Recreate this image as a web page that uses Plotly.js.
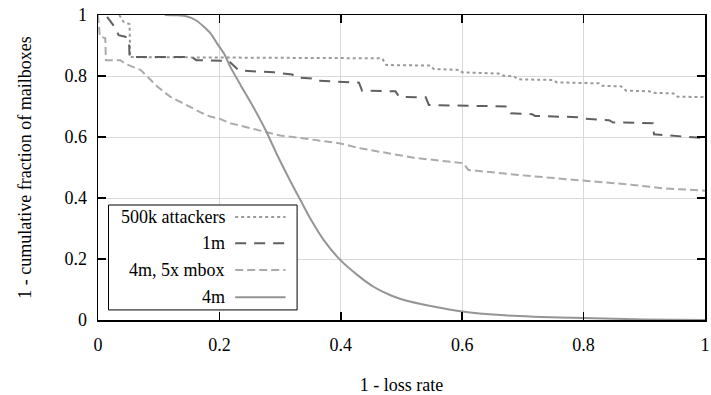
<!DOCTYPE html>
<html>
<head>
<meta charset="utf-8">
<script src="https://cdn.plot.ly/plotly-3.0.1.min.js"></script>
<style>html,body{margin:0;padding:0;background:#fff;}#chart{width:711px;height:395px;}</style>
</head>
<body>
<div id="chart"></div>
<script>
// Series names
var seriesNames = ["500k attackers", "1m", "4m, 5x mbox", "4m"];

// 500k attackers
var x500k = [0.035,0.042,0.052,0.053,0.468,0.475,0.548,0.553,0.595,0.600,0.660,0.668,0.685,0.692,0.750,0.756,0.825,0.830,0.862,0.870,0.908,0.914,0.948,0.955,1.0];
var y500k = [1.0,0.978,0.970,0.862,0.858,0.836,0.834,0.823,0.820,0.812,0.808,0.801,0.799,0.789,0.787,0.779,0.776,0.768,0.766,0.752,0.750,0.745,0.743,0.732,0.731];

// 1m
var x1m = [0.015,0.023,0.029,0.034,0.045,0.051,0.052,0.155,0.162,0.215,0.232,0.29,0.30,0.32,0.325,0.352,0.358,0.41,0.43,0.435,0.49,0.496,0.54,0.545,0.62,0.674,0.68,0.715,0.72,0.79,0.80,0.842,0.848,0.914,0.916,0.99,1.0];
var y1m = [0.994,0.972,0.956,0.934,0.929,0.918,0.862,0.862,0.852,0.85,0.818,0.812,0.809,0.805,0.796,0.792,0.785,0.78,0.778,0.752,0.75,0.732,0.73,0.705,0.702,0.70,0.678,0.675,0.669,0.665,0.66,0.655,0.648,0.645,0.609,0.598,0.596];

// 4m, 5x mbox
var x4m5x = [0.0,0.003,0.012,0.013,0.037,0.045,0.07,0.085,0.098,0.119,0.135,0.152,0.17,0.185,0.2,0.218,0.251,0.3,0.34,0.399,0.432,0.465,0.52,0.602,0.61,0.695,0.794,0.882,0.93,1.0];
var y4m5x = [1.0,0.93,0.924,0.852,0.852,0.84,0.82,0.79,0.765,0.732,0.715,0.699,0.68,0.667,0.66,0.645,0.628,0.605,0.595,0.579,0.563,0.552,0.532,0.514,0.492,0.475,0.459,0.443,0.432,0.424];

// 4m
var x4m = [0.11,0.13,0.147,0.162,0.174,0.186,0.196,0.208,0.218,0.235,0.254,0.276,0.295,0.317,0.333,0.35,0.372,0.399,0.427,0.454,0.481,0.5,0.55,0.6,0.663,0.717,0.8,0.9,1.0];
var y4m = [1.0,0.999,0.995,0.982,0.962,0.938,0.907,0.872,0.83,0.77,0.705,0.623,0.542,0.455,0.395,0.332,0.262,0.197,0.148,0.109,0.082,0.068,0.045,0.028,0.016,0.011,0.0066,0.002,0.0];

// Tick labels
var tickVals = [0, 0.2, 0.4, 0.6, 0.8, 1];
var tickText = ["0", "0.2", "0.4", "0.6", "0.8", "1"];

var styles = [
  {color: "#9a9a9a", dash: "3px,3px", width: 2, shape: "linear"},
  {color: "#606060", dash: "11px,8px", width: 2, shape: "linear"},
  {color: "#ababab", dash: "8px,4px", width: 2, shape: "linear"},
  {color: "#959595", dash: "solid", width: 2, shape: "spline"}
];
var xs = [x500k, x1m, x4m5x, x4m];
var ys = [y500k, y1m, y4m5x, y4m];

var data = [];
for (var i = 0; i < 4; i++) {
  data.push({
    type: "scatter", mode: "lines", name: seriesNames[i],
    x: xs[i], y: ys[i],
    line: {color: styles[i].color, dash: styles[i].dash, width: styles[i].width, shape: styles[i].shape, smoothing: 0.7},
    showlegend: false, hoverinfo: "skip"
  });
}

var FONT = "'Liberation Serif', 'Times New Roman', Times, 'DejaVu Serif', serif";

// custom legend (text left of the line sample)
var legX0 = 0.0173, legX1 = 0.328, legY0 = 0.033, legY1 = 0.377;
var rowY = [0.338, 0.252, 0.164, 0.075];
var shapes = [{
  type: "rect", xref: "paper", yref: "paper",
  x0: legX0, x1: legX1, y0: legY0, y1: legY1,
  line: {color: "#000", width: 1}, fillcolor: "#fff", layer: "above"
}];
var annotations = [];
for (var j = 0; j < 4; j++) {
  shapes.push({
    type: "line", xref: "paper", yref: "paper",
    x0: 0.226, x1: 0.309, y0: rowY[j], y1: rowY[j],
    line: {color: styles[j].color, dash: styles[j].dash, width: 2}, layer: "above"
  });
  annotations.push({
    xref: "paper", yref: "paper", x: 0.213, y: rowY[j],
    xanchor: "right", yanchor: "middle", showarrow: false,
    text: seriesNames[j], font: {family: FONT, size: 18, color: "#000"}
  });
}

var axisCommon = {
  range: [0, 1], tickvals: tickVals, ticktext: tickText,
  showgrid: true, gridcolor: "#d9d9d9", gridwidth: 1,
  zeroline: false, showline: true, linecolor: "#000", linewidth: 1.5,
  mirror: "ticks", ticks: "inside", ticklen: 8, tickcolor: "#000", tickwidth: 1.5,
  tickfont: {family: FONT, size: 18, color: "#000"}
};

var layout = {
  width: 711, height: 395,
  margin: {l: 97.5, r: 6, t: 15, b: 75},
  paper_bgcolor: "#fff", plot_bgcolor: "#fff",
  font: {family: FONT, size: 18, color: "#000"},
  xaxis: Object.assign({}, axisCommon, {
    title: {text: "1 - loss rate", font: {family: FONT, size: 18, color: "#000"}, standoff: 30},
    ticklabelstandoff: 8
  }),
  yaxis: Object.assign({}, axisCommon, {
    title: {text: "1 - cumulative fraction of mailboxes", font: {family: FONT, size: 18, color: "#000"}, standoff: 28},
    ticklabelstandoff: 6
  }),
  shapes: shapes,
  annotations: annotations,
  showlegend: false
};

Plotly.newPlot("chart", data, layout, {displayModeBar: false, staticPlot: true});
</script>
</body>
</html>
